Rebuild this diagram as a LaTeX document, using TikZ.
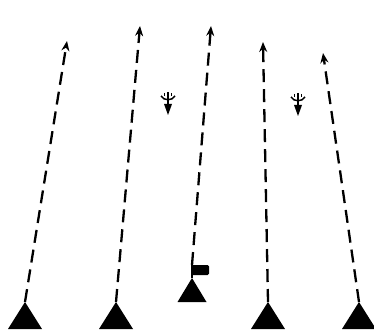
\documentclass[tikz,border=0pt]{standalone}
\usetikzlibrary{arrows.meta}

\tikzset{
  track/.style={line width=2.3pt,dash pattern=on 13pt off 7pt,
    -{Stealth[length=10pt,width=8pt]}},
  site/.pic={\fill (0,0) -- (-17,27) -- (17,27) -- cycle;},
  smallsite/.pic={\fill (0,0) -- (-14.5,24) -- (14.5,24) -- cycle;},
  plane/.pic={
    \draw[line width=1.6pt] (0,0) -- (0,14);
    \draw[line width=1.3pt] (-3.5,1) -- (-3.5,4.5) (3.5,1) -- (3.5,4.5);
    \draw[line width=1.5pt] (-7,4) .. controls (-4,9) and (4,9) .. (7,4);
    \fill (-4,12) -- (4,12) -- (0,23) -- cycle;
  }
}

\begin{document}
\begin{tikzpicture}[x=1pt,y=-1pt]
  \useasboundingbox (0,0) rectangle (374,331);

  % outer sites
  \foreach \n/\xa/\xt/\yt in {1/25/67/41, 2/116/140/26, 4/268/263/42, 5/359/323/53} {
    \coordinate (base\n) at (\xa,302);
    \coordinate (tip\n) at (\xt,\yt);
    \pic at (base\n) {site};
    \draw[track] (base\n) -- (tip\n);
  }

  % middle site with flag
  \coordinate (base3) at (192,278);
  \coordinate (pole3) at (192,265);
  \coordinate (tip3) at (211,26);
  \pic at (base3) {smallsite};
  \draw[line width=2pt] (base3) -- (pole3);
  \fill[rounded corners=1.5pt] (191,265) rectangle (209,275);
  \draw[track] (pole3) -- (tip3);

  % aircraft
  \pic at (168,92) {plane};
  \pic at (298,93) {plane};
\end{tikzpicture}
\end{document}
